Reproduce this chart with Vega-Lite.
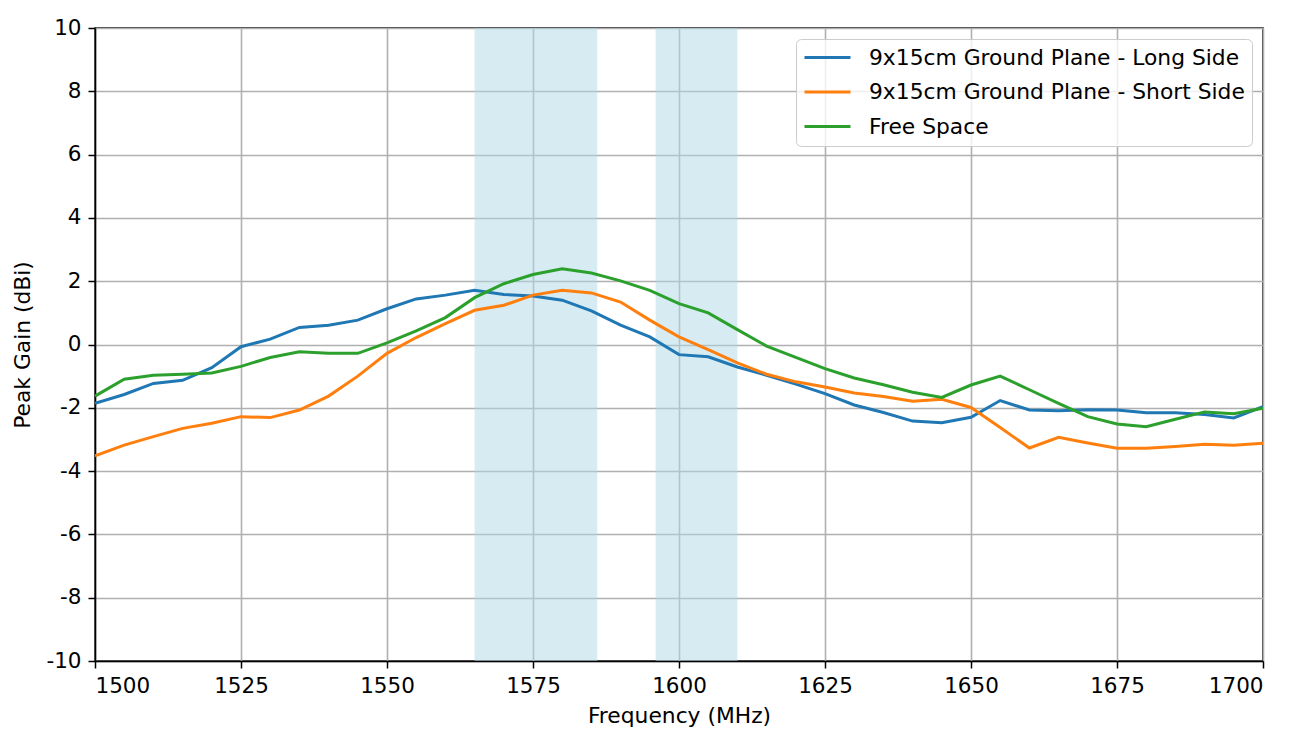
{
  "$schema": "https://vega.github.io/schema/vega-lite/v6.json",
  "width": 1168,
  "height": 633,
  "autosize": "none",
  "padding": {"left": 95, "top": 28, "right": 40, "bottom": 81},
  "background": "white",
  "config": {
    "font": "DejaVu Sans",
    "view": {"stroke": "black", "strokeWidth": 1.5},
    "axis": {
      "labelFont": "DejaVu Sans",
      "titleFont": "DejaVu Sans",
      "labelFontSize": 21.5,
      "titleFontSize": 21.8,
      "titleFontWeight": "normal",
      "labelColor": "black",
      "titleColor": "black",
      "domainColor": "black",
      "domainWidth": 1.5,
      "tickColor": "black",
      "tickWidth": 1.5,
      "tickSize": 7,
      "labelPadding": 7,
      "gridColor": "#b0b0b0",
      "gridWidth": 1.6,
      "gridOpacity": 1
    }
  },
  "layer": [
    {
      "data": {"values": [{"start": 1565, "end": 1586}, {"start": 1596, "end": 1610}]},
      "mark": {"type": "rect", "color": "#add8e6", "opacity": 0.5},
      "encoding": {
        "x": {"field": "start", "type": "quantitative", "scale": {"domain": [1500, 1700], "nice": false}},
        "x2": {"field": "end"}
      }
    },
    {
      "data": {"values": [
        {"f":1500,"s":"9x15cm Ground Plane - Long Side","g":-1.86},
        {"f":1505,"s":"9x15cm Ground Plane - Long Side","g":-1.58},
        {"f":1510,"s":"9x15cm Ground Plane - Long Side","g":-1.23},
        {"f":1515,"s":"9x15cm Ground Plane - Long Side","g":-1.13},
        {"f":1520,"s":"9x15cm Ground Plane - Long Side","g":-0.73},
        {"f":1525,"s":"9x15cm Ground Plane - Long Side","g":-0.07},
        {"f":1530,"s":"9x15cm Ground Plane - Long Side","g":0.17},
        {"f":1535,"s":"9x15cm Ground Plane - Long Side","g":0.54},
        {"f":1540,"s":"9x15cm Ground Plane - Long Side","g":0.61},
        {"f":1545,"s":"9x15cm Ground Plane - Long Side","g":0.77},
        {"f":1550,"s":"9x15cm Ground Plane - Long Side","g":1.13},
        {"f":1555,"s":"9x15cm Ground Plane - Long Side","g":1.44},
        {"f":1560,"s":"9x15cm Ground Plane - Long Side","g":1.56},
        {"f":1565,"s":"9x15cm Ground Plane - Long Side","g":1.71},
        {"f":1570,"s":"9x15cm Ground Plane - Long Side","g":1.58},
        {"f":1575,"s":"9x15cm Ground Plane - Long Side","g":1.53},
        {"f":1580,"s":"9x15cm Ground Plane - Long Side","g":1.40},
        {"f":1585,"s":"9x15cm Ground Plane - Long Side","g":1.06},
        {"f":1590,"s":"9x15cm Ground Plane - Long Side","g":0.61},
        {"f":1595,"s":"9x15cm Ground Plane - Long Side","g":0.24},
        {"f":1600,"s":"9x15cm Ground Plane - Long Side","g":-0.32},
        {"f":1605,"s":"9x15cm Ground Plane - Long Side","g":-0.39},
        {"f":1610,"s":"9x15cm Ground Plane - Long Side","g":-0.71},
        {"f":1615,"s":"9x15cm Ground Plane - Long Side","g":-0.97},
        {"f":1620,"s":"9x15cm Ground Plane - Long Side","g":-1.25},
        {"f":1625,"s":"9x15cm Ground Plane - Long Side","g":-1.55},
        {"f":1630,"s":"9x15cm Ground Plane - Long Side","g":-1.91},
        {"f":1635,"s":"9x15cm Ground Plane - Long Side","g":-2.15},
        {"f":1640,"s":"9x15cm Ground Plane - Long Side","g":-2.42},
        {"f":1645,"s":"9x15cm Ground Plane - Long Side","g":-2.47},
        {"f":1650,"s":"9x15cm Ground Plane - Long Side","g":-2.30},
        {"f":1655,"s":"9x15cm Ground Plane - Long Side","g":-1.77},
        {"f":1660,"s":"9x15cm Ground Plane - Long Side","g":-2.07},
        {"f":1665,"s":"9x15cm Ground Plane - Long Side","g":-2.09},
        {"f":1670,"s":"9x15cm Ground Plane - Long Side","g":-2.06},
        {"f":1675,"s":"9x15cm Ground Plane - Long Side","g":-2.07},
        {"f":1680,"s":"9x15cm Ground Plane - Long Side","g":-2.16},
        {"f":1685,"s":"9x15cm Ground Plane - Long Side","g":-2.16},
        {"f":1690,"s":"9x15cm Ground Plane - Long Side","g":-2.21},
        {"f":1695,"s":"9x15cm Ground Plane - Long Side","g":-2.32},
        {"f":1700,"s":"9x15cm Ground Plane - Long Side","g":-1.96},
        {"f":1500,"s":"9x15cm Ground Plane - Short Side","g":-3.52},
        {"f":1505,"s":"9x15cm Ground Plane - Short Side","g":-3.18},
        {"f":1510,"s":"9x15cm Ground Plane - Short Side","g":-2.91},
        {"f":1515,"s":"9x15cm Ground Plane - Short Side","g":-2.65},
        {"f":1520,"s":"9x15cm Ground Plane - Short Side","g":-2.49},
        {"f":1525,"s":"9x15cm Ground Plane - Short Side","g":-2.28},
        {"f":1530,"s":"9x15cm Ground Plane - Short Side","g":-2.31},
        {"f":1535,"s":"9x15cm Ground Plane - Short Side","g":-2.07},
        {"f":1540,"s":"9x15cm Ground Plane - Short Side","g":-1.63},
        {"f":1545,"s":"9x15cm Ground Plane - Short Side","g":-1.00},
        {"f":1550,"s":"9x15cm Ground Plane - Short Side","g":-0.28},
        {"f":1555,"s":"9x15cm Ground Plane - Short Side","g":0.22},
        {"f":1560,"s":"9x15cm Ground Plane - Short Side","g":0.66},
        {"f":1565,"s":"9x15cm Ground Plane - Short Side","g":1.08},
        {"f":1570,"s":"9x15cm Ground Plane - Short Side","g":1.24},
        {"f":1575,"s":"9x15cm Ground Plane - Short Side","g":1.56},
        {"f":1580,"s":"9x15cm Ground Plane - Short Side","g":1.71},
        {"f":1585,"s":"9x15cm Ground Plane - Short Side","g":1.63},
        {"f":1590,"s":"9x15cm Ground Plane - Short Side","g":1.34},
        {"f":1595,"s":"9x15cm Ground Plane - Short Side","g":0.77},
        {"f":1600,"s":"9x15cm Ground Plane - Short Side","g":0.24},
        {"f":1605,"s":"9x15cm Ground Plane - Short Side","g":-0.16},
        {"f":1610,"s":"9x15cm Ground Plane - Short Side","g":-0.58},
        {"f":1615,"s":"9x15cm Ground Plane - Short Side","g":-0.94},
        {"f":1620,"s":"9x15cm Ground Plane - Short Side","g":-1.18},
        {"f":1625,"s":"9x15cm Ground Plane - Short Side","g":-1.34},
        {"f":1630,"s":"9x15cm Ground Plane - Short Side","g":-1.53},
        {"f":1635,"s":"9x15cm Ground Plane - Short Side","g":-1.64},
        {"f":1640,"s":"9x15cm Ground Plane - Short Side","g":-1.79},
        {"f":1645,"s":"9x15cm Ground Plane - Short Side","g":-1.73},
        {"f":1650,"s":"9x15cm Ground Plane - Short Side","g":-1.99},
        {"f":1655,"s":"9x15cm Ground Plane - Short Side","g":-2.62},
        {"f":1660,"s":"9x15cm Ground Plane - Short Side","g":-3.27},
        {"f":1665,"s":"9x15cm Ground Plane - Short Side","g":-2.93},
        {"f":1670,"s":"9x15cm Ground Plane - Short Side","g":-3.11},
        {"f":1675,"s":"9x15cm Ground Plane - Short Side","g":-3.28},
        {"f":1680,"s":"9x15cm Ground Plane - Short Side","g":-3.28},
        {"f":1685,"s":"9x15cm Ground Plane - Short Side","g":-3.22},
        {"f":1690,"s":"9x15cm Ground Plane - Short Side","g":-3.15},
        {"f":1695,"s":"9x15cm Ground Plane - Short Side","g":-3.18},
        {"f":1700,"s":"9x15cm Ground Plane - Short Side","g":-3.12},
        {"f":1500,"s":"Free Space","g":-1.63},
        {"f":1505,"s":"Free Space","g":-1.10},
        {"f":1510,"s":"Free Space","g":-0.97},
        {"f":1515,"s":"Free Space","g":-0.94},
        {"f":1520,"s":"Free Space","g":-0.90},
        {"f":1525,"s":"Free Space","g":-0.69},
        {"f":1530,"s":"Free Space","g":-0.41},
        {"f":1535,"s":"Free Space","g":-0.23},
        {"f":1540,"s":"Free Space","g":-0.28},
        {"f":1545,"s":"Free Space","g":-0.28},
        {"f":1550,"s":"Free Space","g":0.05},
        {"f":1555,"s":"Free Space","g":0.43},
        {"f":1560,"s":"Free Space","g":0.85},
        {"f":1565,"s":"Free Space","g":1.48},
        {"f":1570,"s":"Free Space","g":1.92},
        {"f":1575,"s":"Free Space","g":2.21},
        {"f":1580,"s":"Free Space","g":2.39},
        {"f":1585,"s":"Free Space","g":2.26},
        {"f":1590,"s":"Free Space","g":2.01},
        {"f":1595,"s":"Free Space","g":1.71},
        {"f":1600,"s":"Free Space","g":1.29},
        {"f":1605,"s":"Free Space","g":1.00},
        {"f":1610,"s":"Free Space","g":0.47},
        {"f":1615,"s":"Free Space","g":-0.05},
        {"f":1620,"s":"Free Space","g":-0.41},
        {"f":1625,"s":"Free Space","g":-0.76},
        {"f":1630,"s":"Free Space","g":-1.06},
        {"f":1635,"s":"Free Space","g":-1.27},
        {"f":1640,"s":"Free Space","g":-1.51},
        {"f":1645,"s":"Free Space","g":-1.67},
        {"f":1650,"s":"Free Space","g":-1.28},
        {"f":1655,"s":"Free Space","g":-1.00},
        {"f":1660,"s":"Free Space","g":-1.43},
        {"f":1665,"s":"Free Space","g":-1.86},
        {"f":1670,"s":"Free Space","g":-2.28},
        {"f":1675,"s":"Free Space","g":-2.51},
        {"f":1680,"s":"Free Space","g":-2.60},
        {"f":1685,"s":"Free Space","g":-2.36},
        {"f":1690,"s":"Free Space","g":-2.13},
        {"f":1695,"s":"Free Space","g":-2.19},
        {"f":1700,"s":"Free Space","g":-2.01}
      ]},
      "mark": {"type": "line", "strokeWidth": 3, "clip": true},
      "encoding": {
        "x": {
          "field": "f", "type": "quantitative",
          "scale": {"domain": [1500, 1700], "nice": false},
          "axis": {"title": "Frequency (MHz)", "format": "d", "values": [1500, 1525, 1550, 1575, 1600, 1625, 1650, 1675, 1700], "titlePadding": 9}
        },
        "y": {
          "field": "g", "type": "quantitative",
          "scale": {"domain": [-10, 10], "nice": false},
          "axis": {
            "title": "Peak Gain (dBi)",
            "values": [-10, -8, -6, -4, -2, 0, 2, 4, 6, 8, 10],
            "labelExpr": "datum.value < 0 ? '-' + abs(datum.value) : '' + datum.value",
            "titlePadding": 11
          }
        },
        "color": {
          "field": "s", "type": "nominal",
          "scale": {
            "domain": ["9x15cm Ground Plane - Long Side", "9x15cm Ground Plane - Short Side", "Free Space"],
            "range": ["#1f77b4", "#ff7f0e", "#2ca02c"]
          },
          "legend": {
            "title": null,
            "orient": "none",
            "legendX": 701,
            "legendY": 11,
            "symbolType": "M-1,0H3.6",
            "symbolSize": 400,
            "symbolStrokeWidth": 3,
            "labelFont": "DejaVu Sans",
            "labelFontSize": 21.8,
            "labelColor": "black",
            "labelOffset": 43,
            "labelLimit": 600,
            "rowPadding": 10.5,
            "padding": 7,
            "fillColor": "rgba(255,255,255,0.8)",
            "strokeColor": "#cccccc",
            "cornerRadius": 5
          }
        }
      }
    }
  ]
}
